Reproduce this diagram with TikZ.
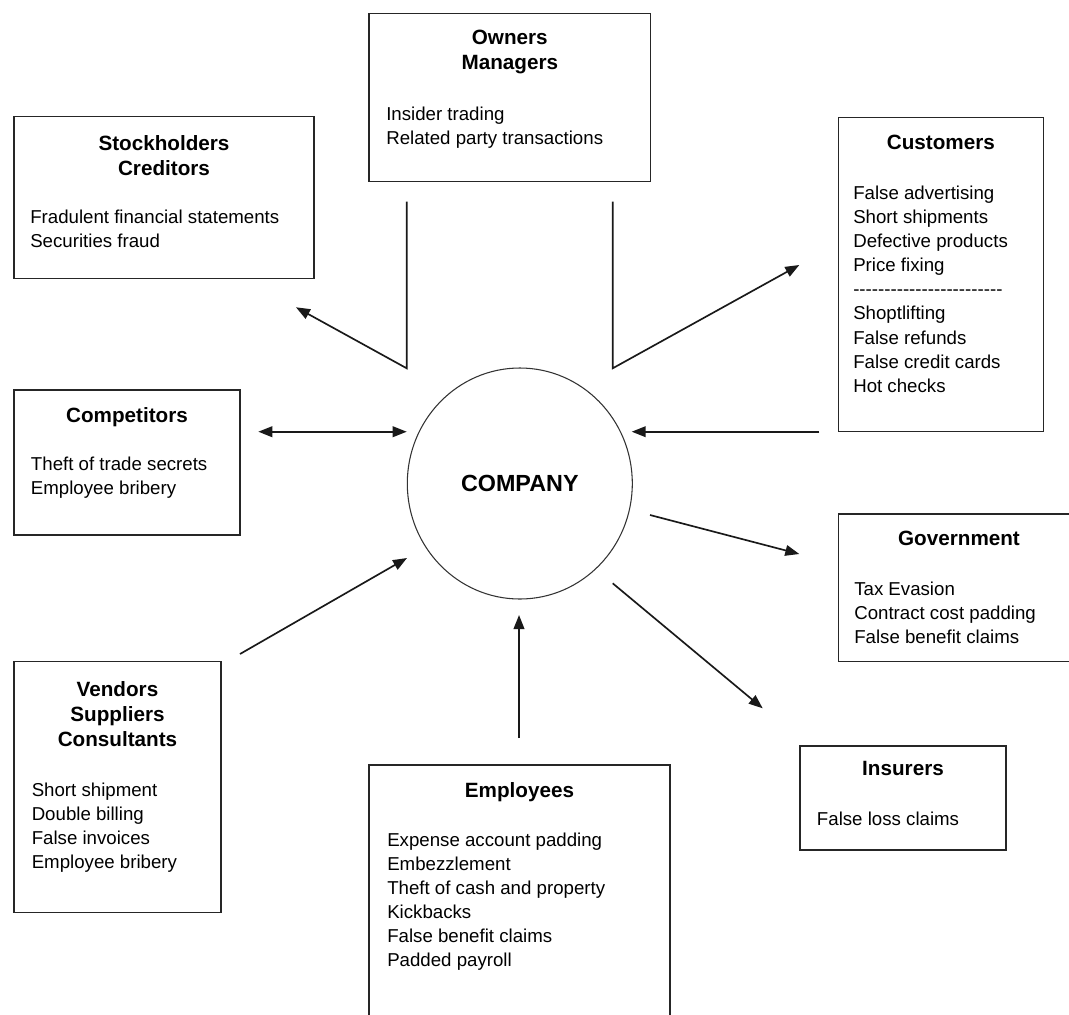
\documentclass[tikz,border=0pt]{standalone}
\usepackage{fontspec}
\setmainfont{Liberation Sans}
\usetikzlibrary{arrows.meta,shapes.geometric}

% a row of plain hyphens (kept apart so they never merge into dashes)
\newcommand\hy{\mbox{-}}
\newcommand\hyfour{\hy\hy\hy\hy}

\begin{document}
\begin{tikzpicture}[x=0.75pt,y=-0.75pt,
  box/.style 2 args={draw=black!85, line width=1.15pt, rectangle, inner sep=0pt,
    minimum width=#1*0.75pt, minimum height=#2*0.75pt},
  head/.style={font=\bfseries\fontsize{15.5pt}{18.8pt}\selectfont, align=center,
    anchor=north, inner sep=0pt},
  body/.style={font=\fontsize{14pt}{18.1pt}\selectfont, align=left,
    anchor=north west, inner sep=0pt},
  link/.style={line width=1.25pt, black!90},
  tip/.tip={Triangle[length=10.5pt,width=8pt]},
  arr/.style={link, -tip},
  darr/.style={link, tip-tip},
]
\clip (0,0) rectangle (1069,1014);

% central party
\node[draw=black!80, line width=0.8pt, ellipse, inner sep=0pt,
  minimum width=225*0.75pt, minimum height=231*0.75pt,
  font=\bfseries\fontsize{17.5pt}{20pt}\selectfont] (company) at (519.8,483.5) {COMPANY};

% boxes
\node[box={281.7}{168.4}] (owners) at (509.85,97.5) {};
\node[box={300}{161.6}]   (stock)  at (164,197.5) {};
\node[box={205}{314.4}]   (cust)   at (940.8,274.5) {};
\node[box={226}{145}]     (comp)   at (127,462.5) {};
\node[box={241.7}{147.7}] (gov)    at (959.15,587.85) {};
\node[box={206}{104}]     (ins)    at (903,798) {};
\node[box={207}{250.6}]   (vend)   at (117.5,787) {};
\node[box={301}{275}]     (empl)   at (519.5,902.5) {};

% titles
\node[head] (ownersT) at (509.8,30)  {Owners\\Managers};
\node[head] (stockT)  at (164,135)   {Stockholders\\Creditors};
\node[head] (custT)   at (940.8,134.5) {Customers};
\node[head] (compT)   at (127,407.5) {Competitors};
\node[head] (govT)    at (959,531) {Government};
\node[head] (insT)    at (903,761) {Insurers};
\node[head] (vendT)   at (117.5,681) {Vendors\\Suppliers\\Consultants};
\node[head] (emplT)   at (519.5,782.5) {Employees};

% lists of frauds
\node[body] (ownersB) at (386,106.8) {Insider trading\\Related party transactions};
\node[body] (stockB)  at (30,210) {Fradulent financial statements\\Securities fraud};
\node[body] (custB)   at (853,185.5) {False advertising\\Short shipments\\Defective products\\Price fixing\\
  \hyfour\hyfour\hyfour\hyfour\hyfour\hyfour\\Shoptlifting\\False refunds\\False credit cards\\Hot checks};
\node[body] (compB)   at (30.7,457) {Theft of trade secrets\\Employee bribery};
\node[body] (govB)    at (854,581.2) {Tax Evasion\\Contract cost padding\\False benefit claims};
\node[body] (insB)    at (816.7,811.5) {False loss claims};
\node[body] (vendB)   at (31.5,782.5) {Short shipment\\Double billing\\False invoices\\Employee bribery};
\node[body] (emplB)   at (387,832.5) {Expense account padding\\Embezzlement\\Theft of cash and property\\
  Kickbacks\\False benefit claims\\Padded payroll};

% connector end points
\coordinate (oL1) at (406.7,201.5);
\coordinate (oL2) at (406.7,368.3);
\coordinate (stockTip) at (296,307.3);
\coordinate (oR1) at (612.7,201.5);
\coordinate (oR2) at (612.7,368.3);
\coordinate (custTip) at (799.3,265);
\coordinate (compA) at (258.3,431.7);
\coordinate (compB2) at (406.7,431.7);
\coordinate (custA) at (819.3,431.7);
\coordinate (custB2) at (631.7,431.7);
\coordinate (govA) at (650,515);
\coordinate (govTip) at (799.3,554);
\coordinate (insA) at (612.7,583.3);
\coordinate (insTip) at (762.7,708.3);
\coordinate (vendA) at (240,654);
\coordinate (vendTip) at (407,558);
\coordinate (emplA) at (519,738);
\coordinate (emplTip) at (519,615);

% connectors
\draw[arr] (oL1) -- (oL2) -- (stockTip);
\draw[arr] (oR1) -- (oR2) -- (custTip);
\draw[darr] (compA) -- (compB2);
\draw[arr] (custA) -- (custB2);
\draw[arr] (govA) -- (govTip);
\draw[arr] (insA) -- (insTip);
\draw[arr] (vendA) -- (vendTip);
\draw[arr] (emplA) -- (emplTip);
\end{tikzpicture}
\end{document}
